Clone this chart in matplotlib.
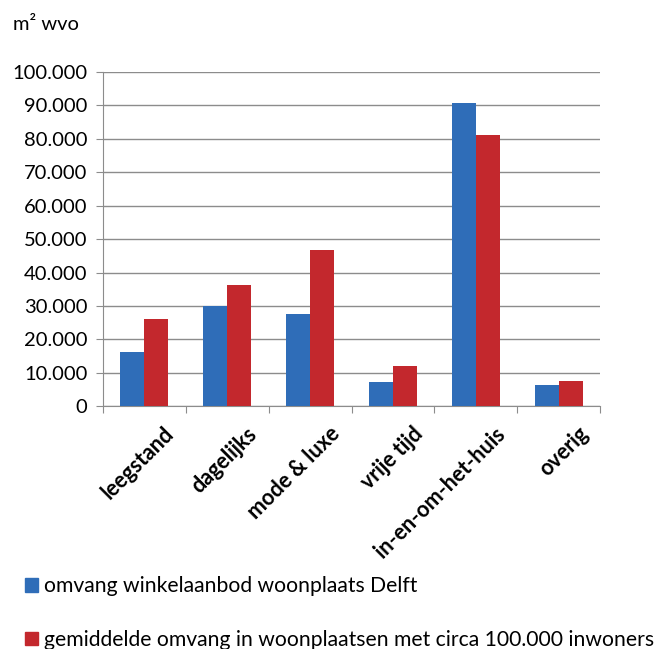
import matplotlib.pyplot as plt
import matplotlib.transforms as mtransforms
import numpy as np
from matplotlib.ticker import FuncFormatter, MultipleLocator
from matplotlib.patches import Patch

plt.rcParams['font.family'] = ['Lato', 'DejaVu Sans']

# data (m2 wvo)
categories = ['leegstand', 'dagelijks', 'mode & luxe', 'vrije tijd', 'in-en-om-het-huis', 'overig']
delft = [16300, 29900, 27700, 7200, 90600, 6500]
gemiddeld = [26100, 36200, 46900, 12000, 81100, 7600]
series_labels = ['omvang winkelaanbod woonplaats Delft',
                 'gemiddelde omvang in woonplaatsen met circa 100.000 inwoners']

blue = '#2f6db8'
red = '#c3282d'

fig = plt.figure(figsize=(6.67, 6.49), dpi=100)
ax = fig.add_axes([0.154, 0.374, 0.746, 0.515])

x = np.arange(len(categories))
w = 0.29
ax.bar(x - w / 2, delft, w, color=blue, zorder=3)
ax.bar(x + w / 2, gemiddeld, w, color=red, zorder=3)

ax.set_xlim(-0.5, len(categories) - 0.5)
ax.set_ylim(0, 100000)
ax.yaxis.set_major_locator(MultipleLocator(10000))
ax.yaxis.set_major_formatter(FuncFormatter(lambda v, p: f"{int(v):,}".replace(',', '.')))
ax.grid(axis='y', color='#8c8c8c', linewidth=1.0, zorder=0)

for s in ['top', 'right']:
    ax.spines[s].set_visible(False)
ax.spines['left'].set_color('#8c8c8c')
ax.spines['bottom'].set_color('#8c8c8c')

# category labels, rotated and nudged a bit to the right like the original
ax.set_xticks(np.arange(-0.5, len(categories), 1))
ax.set_xticklabels([])
ax.tick_params(axis='x', length=5, color='#8c8c8c')
label_trans = ax.get_xaxis_transform() + mtransforms.ScaledTranslation(0.19, -0.17, fig.dpi_scale_trans)
for xi, name in zip(x, categories):
    ax.text(xi, 0, name, transform=label_trans, rotation=45, ha='right', va='top',
            rotation_mode='anchor', fontsize=15.5, fontweight='bold')

ax.tick_params(axis='y', length=5, color='#8c8c8c', labelsize=14.5, pad=6)

fig.text(0.02, 0.962, 'm² wvo', fontsize=14.5, va='center')

handles = [Patch(color=blue), Patch(color=red)]
fig.legend(handles, series_labels, loc='upper left', bbox_to_anchor=(0.025, 0.125),
           frameon=False, fontsize=15.2, handlelength=0.6, handleheight=0.6,
           handletextpad=0.3, labelspacing=1.6, borderaxespad=0)

fig.savefig('out.png', dpi=100)
